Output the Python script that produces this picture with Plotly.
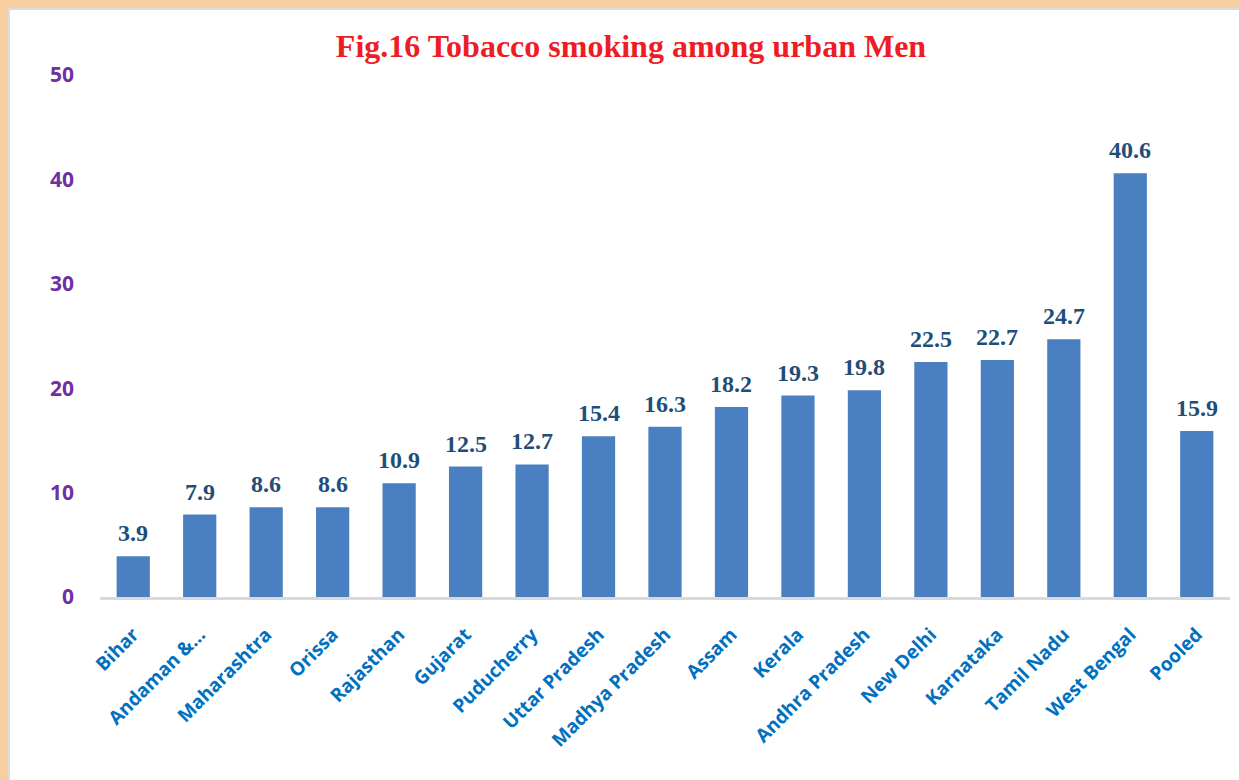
import plotly.graph_objects as go

categories = ["Bihar", "Andaman &…", "Maharashtra", "Orissa", "Rajasthan", "Gujarat",
              "Puducherry", "Uttar Pradesh", "Madhya Pradesh", "Assam", "Kerala",
              "Andhra Pradesh", "New Delhi", "Karnataka", "Tamil Nadu", "West Bengal", "Pooled"]
values = [3.9, 7.9, 8.6, 8.6, 10.9, 12.5, 12.7, 15.4, 16.3, 18.2, 19.3, 19.8, 22.5, 22.7, 24.7, 40.6, 15.9]
labels = [f"<b>{v:.1f}</b>" for v in values]
y_ticks = [0, 10, 20, 30, 40, 50]

fig = go.Figure()
fig.add_trace(go.Bar(
    x=categories, y=values,
    marker=dict(color="#4A80C1", line=dict(width=0)),
    hoverinfo="skip",
))
for c, v, t in zip(categories, values, labels):
    fig.add_annotation(x=c, y=v, text=t, showarrow=False, yanchor="middle", yshift=23,
                       font=dict(family="Liberation Serif", size=24, color="#1F4E79"))

L, R, T, B = 100, 9, 75, 183
peach = "#F7CEA0"
gray = "#DCDCDC"
shapes = [
    dict(type="rect", xref="paper", yref="paper", xsizemode="pixel", ysizemode="pixel",
         xanchor=0, yanchor=0, x0=-L, x1=1139, y0=589, y1=600, fillcolor=peach, line_width=0, layer="below"),
    dict(type="rect", xref="paper", yref="paper", xsizemode="pixel", ysizemode="pixel",
         xanchor=0, yanchor=0, x0=-90, x1=1139, y0=587, y1=589, fillcolor=gray, line_width=0, layer="below"),
    dict(type="rect", xref="paper", yref="paper", xsizemode="pixel", ysizemode="pixel",
         xanchor=0, yanchor=0, x0=-L - 2, x1=-92, y0=-B - 2, y1=597, fillcolor=peach, line_width=0, layer="below"),
    dict(type="rect", xref="paper", yref="paper", xsizemode="pixel", ysizemode="pixel",
         xanchor=0, yanchor=0, x0=-92, x1=-90, y0=-B - 2, y1=589, fillcolor=gray, line_width=0, layer="below"),
]

fig.update_layout(
    width=1239, height=780,
    margin=dict(l=L, r=R, t=T, b=B, autoexpand=False),
    paper_bgcolor="white", plot_bgcolor="white",
    bargap=0.5,
    showlegend=False,
    title=dict(text="<b>Fig.16 Tobacco smoking among urban Men</b>",
               font=dict(family="Liberation Serif", size=32, color="#EE1C25"),
               x=631 / 1239, xanchor="center", xref="container", y=1 - 46 / 780, yanchor="middle"),
    shapes=shapes,
    xaxis=dict(tickangle=-45, showgrid=False, showline=True, linecolor="#D9D9D9", linewidth=3,
               ticks="", ticklabelstandoff=16,
               tickfont=dict(family="Open Sans", size=19, color="#0070C0", weight="bold")),
    yaxis=dict(range=[0, 50], tickvals=y_ticks, showgrid=False, zeroline=False, showline=False,
               ticks="", ticklabelstandoff=25,
               tickfont=dict(family="Open Sans", size=21, color="#7030A0", weight="bold")),
)
fig.write_html("out.html", config={"displayModeBar": False},
               post_script="document.body.style.margin='0';document.body.style.padding='0';")
